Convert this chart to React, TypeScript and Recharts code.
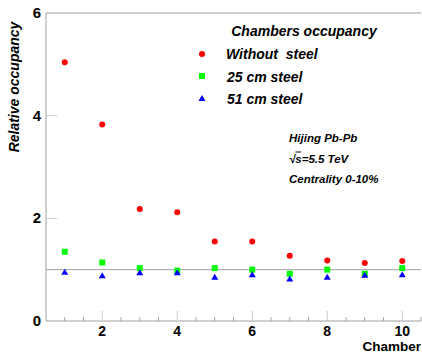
import { ScatterChart, Scatter, XAxis, YAxis, ReferenceLine } from 'recharts';

const chambers = [1, 2, 3, 4, 5, 6, 7, 8, 9, 10];
const withoutSteel = [5.04, 3.83, 2.18, 2.12, 1.55, 1.55, 1.27, 1.18, 1.13, 1.17];
const steel25 = [1.35, 1.14, 1.03, 0.98, 1.03, 1.0, 0.92, 1.0, 0.92, 1.03];
const steel51 = [0.96, 0.89, 0.95, 0.95, 0.86, 0.91, 0.83, 0.86, 0.9, 0.91];

const xTicks = [1, 1.5, 2, 2.5, 3, 3.5, 4, 4.5, 5, 5.5, 6, 6.5, 7, 7.5, 8, 8.5, 9, 9.5, 10, 10.5];
const xLabels = [2, 4, 6, 8, 10];
const yTicks = [0, 2, 4, 6];

const toPoints = (vals: number[]) => chambers.map((c, i) => ({ x: c, y: vals[i] }));

const font = '"Liberation Sans", Arial, sans-serif';
const axisGrey = '#a0a0a0';

const Dot = (p: any) => <circle cx={p.cx} cy={p.cy} r={3} fill="#ff0000" />;
const Square = (p: any) => <rect x={p.cx - 3} y={p.cy - 3} width={6} height={6} fill="#00ff00" />;
const Tri = (p: any) => (
  <polygon points={`${p.cx - 3.5},${p.cy + 3} ${p.cx + 3.5},${p.cy + 3} ${p.cx},${p.cy - 3}`} fill="#0000ff" />
);

const XTick = ({ x, y, payload }: any) => {
  const v = payload.value;
  const major = xLabels.includes(v);
  return (
    <g>
      <line x1={x} x2={x} y1={y} y2={y - (major ? 10 : 4)} stroke={major ? '#cccccc' : axisGrey} />
      {major && (
        <text x={x} y={y + 15} textAnchor="middle" fontFamily={font} fontWeight="bold" fontSize={14} fill="#000">
          {v}
        </text>
      )}
    </g>
  );
};

const YTick = ({ x, y, payload }: any) => {
  const v = payload.value;
  return (
    <g>
      {(v === 2 || v === 4) && <line x1={x} x2={x + 11} y1={y} y2={y} stroke="#cccccc" />}
      <text x={x - 5} y={y + 5} textAnchor="end" fontFamily={font} fontWeight="bold" fontSize={15} fill="#000">
        {v}
      </text>
    </g>
  );
};

export default function App() {
  return (
    <div style={{ position: 'absolute', left: 0, top: 0, width: 422, height: 352, background: '#fff' }}>
      <ScatterChart width={422} height={352} margin={{ top: 13, right: 1, bottom: 0, left: 0 }}>
        <XAxis
          type="number"
          dataKey="x"
          domain={[0.5, 10.5]}
          ticks={xTicks}
          interval={0}
          height={31}
          tickSize={0}
          tickMargin={0}
          tick={<XTick />}
          axisLine={{ stroke: axisGrey }}
          tickLine={false}
        />
        <YAxis
          type="number"
          dataKey="y"
          domain={[0, 6]}
          ticks={yTicks}
          interval={0}
          width={46}
          tickSize={0}
          tickMargin={0}
          tick={<YTick />}
          axisLine={{ stroke: axisGrey }}
          tickLine={false}
        />
        <ReferenceLine y={6} stroke={axisGrey} />
        <ReferenceLine y={1} stroke={axisGrey} />
        <Scatter data={toPoints(withoutSteel)} shape={Dot} isAnimationActive={false} />
        <Scatter data={toPoints(steel25)} shape={Square} isAnimationActive={false} />
        <Scatter data={toPoints(steel51)} shape={Tri} isAnimationActive={false} />
      </ScatterChart>
      <svg width={422} height={352} style={{ position: 'absolute', left: 0, top: 0, pointerEvents: 'none' }}>
        <g fontFamily={font} fontWeight="bold" fontStyle="italic" fill="#000">
          <text x={14} y={87} fontSize={14} textAnchor="middle" dominantBaseline="central" transform="rotate(-90 14 87)">
            Relative occupancy
          </text>
          <text x={421} y={350.5} fontSize={13.5} fontStyle="normal" textAnchor="end">
            Chamber
          </text>
          <text x={304} y={36} fontSize={14} textAnchor="middle">Chambers occupancy</text>
          <circle cx={202} cy={54} r={3} fill="#ff0000" />
          <text x={226} y={59} fontSize={14} style={{ whiteSpace: 'pre' }}>{'Without  steel'}</text>
          <rect x={199} y={73} width={6} height={6} fill="#00ff00" />
          <text x={227} y={81.5} fontSize={14}>25 cm steel</text>
          <polygon points="198.5,101 205.5,101 202,95" fill="#0000ff" />
          <text x={227} y={104} fontSize={14}>51 cm steel</text>
          <text x={289} y={142} fontSize={11.5}>Hijing Pb-Pb</text>
          <text x={289} y={162.5} fontSize={11.5}>√s=5.5 TeV</text>
          <line x1={295.5} x2={301} y1={152} y2={152} stroke="#000" strokeWidth={1} />
          <text x={289} y={182.5} fontSize={11.5}>Centrality 0-10%</text>
        </g>
      </svg>
    </div>
  );
}
